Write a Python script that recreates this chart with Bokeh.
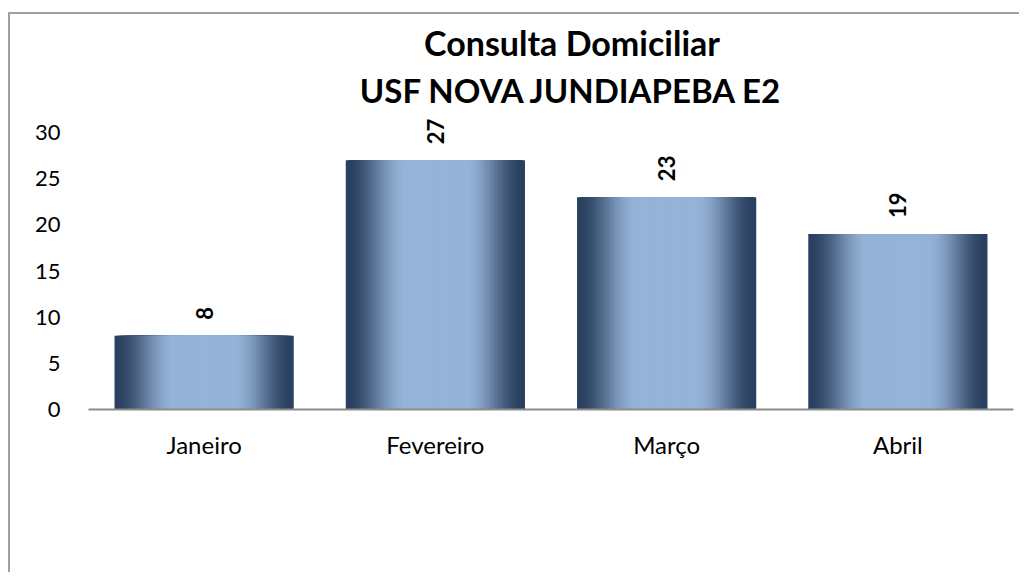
import numpy as np
from bokeh.plotting import figure
from bokeh.models import Range1d, FixedTicker, ColumnDataSource, LabelSet, Label
from bokeh.core.properties import value
from bokeh.embed import file_html
from bokeh.resources import INLINE

categories = ["Janeiro", "Fevereiro", "Março", "Abril"]
values = [8, 27, 23, 19]
title_lines = ["Consulta Domiciliar", "USF NOVA JUNDIAPEBA E2"]
y_ticks = [0, 5, 10, 15, 20, 25, 30]

FRAME_H = 388
Y_MAX = 30 * FRAME_H / 277.0

p = figure(width=1011, height=560, output_backend="svg", toolbar_location=None,
           x_range=Range1d(0, len(categories)), y_range=Range1d(0, Y_MAX),
           min_border_left=78, min_border_right=8, min_border_top=7, min_border_bottom=165)
p.styles = {"border-left": "2px solid #a0a0a0", "border-top": "2px solid #a0a0a0",
            "margin-top": "12px", "margin-left": "8px"}
p.outline_line_color = None
p.background_fill_color = "white"
p.border_fill_color = "white"
p.xgrid.grid_line_color = None
p.ygrid.grid_line_color = None

# gradient bars: nested centred rectangles, widest (dark) first, narrowest (light) last
N = 45
bar_w = 0.775
dark = np.array([42, 64, 96], dtype=float)
light = np.array([149, 179, 215], dtype=float)

xs, tops, widths, colors = [], [], [], []
for k in range(N):
    frac = 1 - k / N
    s = 1 - frac
    u = min(1.0, s / 0.66)
    fval = u * u * (3 - 2 * u)
    col = "#%02x%02x%02x" % tuple(np.round(dark + (light - dark) * fval).astype(int))
    for i, v in enumerate(values):
        xs.append(i + 0.5)
        tops.append(v)
        widths.append(bar_w * frac)
        colors.append(col)
src = ColumnDataSource(dict(x=xs, top=tops, w=widths, color=colors))
p.vbar(x="x", top="top", bottom=0, width="w", fill_color="color",
       line_color=None, source=src)

# axes
p.xaxis.ticker = FixedTicker(ticks=[i + 0.5 for i in range(len(categories))])
p.xaxis.major_label_overrides = {i + 0.5: c for i, c in enumerate(categories)}
p.xaxis.major_tick_line_color = None
p.xaxis.minor_tick_line_color = None
p.xaxis.axis_line_color = "#8c8c8c"
p.xaxis.axis_line_width = 2
p.xaxis.major_label_text_font = "Lato"
p.xaxis.major_label_text_font_size = "24px"
p.xaxis.major_label_text_color = "black"
p.xaxis.major_label_standoff = 14

p.yaxis.ticker = FixedTicker(ticks=y_ticks)
p.yaxis.axis_line_color = None
p.yaxis.major_tick_line_color = None
p.yaxis.minor_tick_line_color = None
p.yaxis.major_label_text_font = "Lato"
p.yaxis.major_label_text_font_size = "22px"
p.yaxis.major_label_text_color = "black"
p.yaxis.major_label_standoff = 22

# data labels
lsrc = ColumnDataSource(dict(x=[i + 0.5 for i in range(len(values))], y=values,
                             text=[str(v) for v in values]))
p.add_layout(LabelSet(x="x", y="y", text="text", source=lsrc, angle=np.pi / 2,
                      text_align="left", text_baseline="middle", y_offset=16,
                      text_font=value("Lato"), text_font_style="bold",
                      text_font_size="22px", text_color="black"))

# title
for line, off, fs in zip(title_lines, [90, 43], ["34px", "33px"]):
    p.add_layout(Label(x=len(categories) / 2, y=30, x_offset=21, y_offset=off, text=line,
                       text_align="center", text_baseline="alphabetic",
                       text_font="Lato", text_font_style="bold", text_font_size=fs,
                       text_color="black"))

open("out.html", "w").write(file_html(p, INLINE))
